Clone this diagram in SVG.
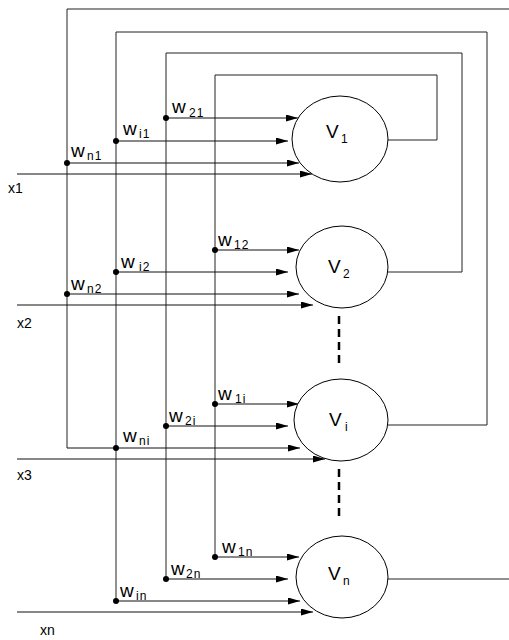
<svg xmlns="http://www.w3.org/2000/svg" width="509" height="640" viewBox="0 0 509 640">
<style>
.ln{fill:none;stroke:#222;stroke-width:1}
.ar{fill:none;stroke:#111;stroke-width:1;marker-end:url(#ah)}
.dot{fill:#000}
.node{fill:#fff;stroke:#000;stroke-width:1}
.dash{stroke:#000;stroke-width:2.5;stroke-dasharray:8 5}
.w{font-family:"Liberation Sans",Arial,sans-serif;font-size:19px;fill:#000}
.s{font-family:"Liberation Sans",Arial,sans-serif;font-size:12px;letter-spacing:1px;fill:#000}
.v{font-family:"Liberation Sans",Arial,sans-serif;font-size:19px;fill:#000}
.vs{font-family:"Liberation Sans",Arial,sans-serif;font-size:12px;fill:#000}
.x{font-family:"Liberation Sans",Arial,sans-serif;font-size:14px;fill:#000}
</style>
<defs>
<marker id="ah" markerWidth="12" markerHeight="8" refX="12" refY="3.5" orient="auto" markerUnits="userSpaceOnUse">
<path d="M0,0 L12,3.5 L0,7 z" fill="#000"/>
</marker>
</defs>
<rect width="509" height="640" fill="#fff"/>
<g id="connectors">
<polyline class="ln" points="388,140 437,140 437,75 215,75 215,557"/>
<polyline class="ln" points="388,272 462,272 462,53 166,53 166,579"/>
<polyline class="ln" points="388,425 487,425 487,32 116,32 116,601"/>
<polyline class="ln" points="388,579 509,579"/>
<polyline class="ln" points="509,9 67,9 67,448"/>
<line class="ar" x1="166" y1="118" x2="298" y2="118"/>
<line class="ar" x1="116" y1="141" x2="288" y2="141"/>
<line class="ar" x1="67" y1="163" x2="299" y2="163"/>
<line class="ar" x1="17" y1="174" x2="312" y2="174"/>
<line class="ar" x1="215" y1="250" x2="299" y2="250"/>
<line class="ar" x1="116" y1="272" x2="288" y2="272"/>
<line class="ar" x1="67" y1="294" x2="299" y2="294"/>
<line class="ar" x1="17" y1="305" x2="313" y2="305"/>
<line class="ar" x1="215" y1="404" x2="299" y2="404"/>
<line class="ar" x1="166" y1="426" x2="288" y2="426"/>
<line class="ar" x1="67" y1="448" x2="300" y2="448"/>
<line class="ar" x1="17" y1="459" x2="325" y2="459"/>
<line class="ar" x1="215" y1="557" x2="299" y2="557"/>
<line class="ar" x1="166" y1="579" x2="288" y2="579"/>
<line class="ar" x1="116" y1="601" x2="300" y2="601"/>
<line class="ar" x1="17" y1="612" x2="313" y2="612"/>
<line class="dash" x1="339" y1="316" x2="339" y2="367"/>
<line class="dash" x1="339" y1="469" x2="339" y2="520"/>
<circle class="dot" cx="166" cy="118" r="3"/>
<circle class="dot" cx="116" cy="141" r="3"/>
<circle class="dot" cx="67" cy="163" r="3"/>
<circle class="dot" cx="215" cy="250" r="3"/>
<circle class="dot" cx="116" cy="272" r="3"/>
<circle class="dot" cx="67" cy="294" r="3"/>
<circle class="dot" cx="215" cy="404" r="3"/>
<circle class="dot" cx="166" cy="426" r="3"/>
<circle class="dot" cx="116" cy="448" r="3"/>
<circle class="dot" cx="215" cy="557" r="3"/>
<circle class="dot" cx="166" cy="579" r="3"/>
<circle class="dot" cx="116" cy="601" r="3"/>
</g>
<g id="weights">
<text class="w" x="172" y="113">w</text><text class="s" x="189" y="117">21</text>
<text class="w" x="123" y="135">w</text><text class="s" x="139" y="138">i1</text>
<text class="w" x="71" y="157">w</text><text class="s" x="87" y="160">n1</text>
<text class="w" x="218" y="246">w</text><text class="s" x="234" y="249">12</text>
<text class="w" x="121" y="268">w</text><text class="s" x="139" y="271">i2</text>
<text class="w" x="71" y="290">w</text><text class="s" x="87" y="293">n2</text>
<text class="w" x="218" y="400">w</text><text class="s" x="235" y="403">1i</text>
<text class="w" x="169" y="422">w</text><text class="s" x="185" y="425">2i</text>
<text class="w" x="123" y="442">w</text><text class="s" x="139" y="445">ni</text>
<text class="w" x="222" y="553">w</text><text class="s" x="238" y="556">1n</text>
<text class="w" x="171" y="575">w</text><text class="s" x="186" y="578">2n</text>
<text class="w" x="120" y="597">w</text><text class="s" x="136" y="600">in</text>
</g>
<g id="inputs">
<text class="x" x="8" y="193">x1</text>
<text class="x" x="17" y="328">x2</text>
<text class="x" x="17" y="480">x3</text>
<text class="x" x="40" y="635">xn</text>
</g>
<g id="V1"><ellipse class="node" cx="340" cy="139" rx="48" ry="43"/><text class="v" x="326" y="138">V</text><text class="vs" x="341" y="143">1</text></g>
<g id="V2"><ellipse class="node" cx="342" cy="267" rx="46" ry="41"/><text class="v" x="328" y="273">V</text><text class="vs" x="343" y="278">2</text></g>
<g id="Vi"><ellipse class="node" cx="341" cy="420" rx="47" ry="41"/><text class="v" x="329" y="426">V</text><text class="vs" x="345" y="431">i</text></g>
<g id="Vn"><ellipse class="node" cx="342" cy="577" rx="46" ry="41"/><text class="v" x="328" y="580">V</text><text class="vs" x="343" y="585">n</text></g>
</svg>
